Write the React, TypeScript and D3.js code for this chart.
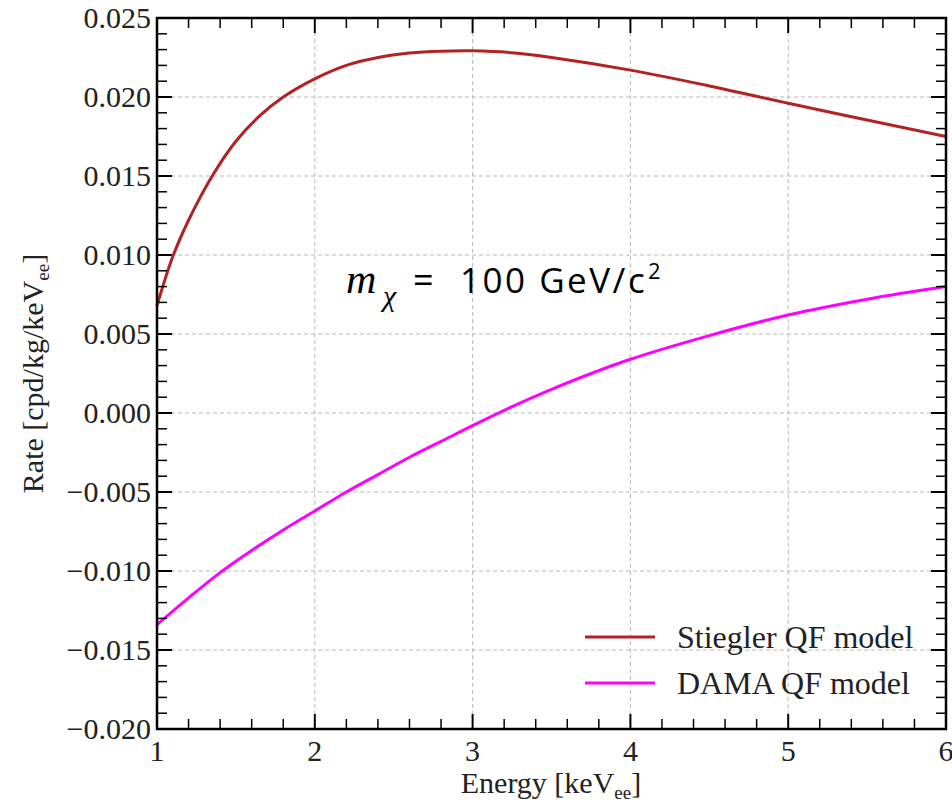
import React from "react";
import * as d3 from "d3";

const energy = [1.0, 1.1, 1.2, 1.35, 1.5, 1.65, 1.8, 2.0, 2.2, 2.4, 2.6, 2.8, 3.0, 3.25, 3.5, 4.0, 4.5, 5.0, 5.5, 6.0];
const stiegler = [0.0068, 0.0099, 0.0122, 0.0150, 0.0172, 0.0188, 0.0200, 0.02115, 0.0220, 0.0225, 0.02278, 0.0229, 0.02292, 0.0228, 0.0225, 0.0217, 0.0207, 0.0196, 0.01855, 0.0175];
const damaEnergy = [1.0, 1.2, 1.4, 1.6, 1.8, 2.0, 2.2, 2.4, 2.6, 2.8, 3.0, 3.25, 3.5, 4.0, 4.5, 5.0, 5.5, 6.0];
const dama = [-0.0134, -0.0117, -0.0101, -0.0087, -0.0074, -0.0062, -0.0050, -0.0039, -0.0028, -0.0018, -0.0008, 0.0004, 0.0015, 0.0034, 0.0049, 0.0062, 0.0072, 0.0080];
const xTicks = [1, 2, 3, 4, 5, 6];
const yTicks = [-0.02, -0.015, -0.01, -0.005, 0, 0.005, 0.01, 0.015, 0.02, 0.025];
const seriesNames = ["Stiegler QF model", "DAMA QF model"];
const seriesColors = ["#b22222", "#ff00ff"];

const W = 952, H = 802;
const L = 157, R = 946, T = 18, B = 729;

export default function App() {
  const x = d3.scaleLinear().domain([1, 6]).range([L, R]);
  const y = d3.scaleLinear().domain([-0.02, 0.025]).range([B, T]);
  const line = d3.line<[number, number]>().x(d => x(d[0])).y(d => y(d[1])).curve(d3.curveCatmullRom.alpha(0.5));
  const sPts = energy.map((e, i) => [e, stiegler[i]] as [number, number]);
  const dPts = damaEnergy.map((e, i) => [e, dama[i]] as [number, number]);
  const xMinor = d3.range(1, 6.0001, 0.2).map(v => +v.toFixed(2)).filter(v => Math.abs(v - Math.round(v)) > 1e-6);
  const yMinor = d3.range(-0.02, 0.0250001, 0.001).map(v => +v.toFixed(4)).filter(v => !yTicks.some(t => Math.abs(t - v) < 1e-7));
  const fmt = (v: number) => (v < -1e-9 ? "\u2212" : "") + d3.format(".3f")(Math.abs(v));
  const serif = "'Liberation Serif', 'DejaVu Serif', serif";
  const sans = "'Open Sans', Lato, sans-serif";

  return (
    <svg width={W} height={H} style={{ position: "absolute", left: 0, top: 0, background: "#fff" }}>
      <rect x={0} y={0} width={W} height={H} fill="#fff" />
      {xTicks.slice(1, -1).map(t => (
        <line key={"gx" + t} x1={x(t)} x2={x(t)} y1={T} y2={B} stroke="#b8b8b8" strokeWidth={1} strokeDasharray="4,3" />
      ))}
      {yTicks.slice(1, -1).map(t => (
        <line key={"gy" + t} x1={L} x2={R} y1={y(t)} y2={y(t)} stroke="#b8b8b8" strokeWidth={1} strokeDasharray="4,3" />
      ))}
      <path d={line(sPts) || ""} fill="none" stroke={seriesColors[0]} strokeWidth={3} />
      <path d={line(dPts) || ""} fill="none" stroke={seriesColors[1]} strokeWidth={3} />
      {xTicks.map(t => (
        <g key={"xt" + t}>
          <line x1={x(t)} x2={x(t)} y1={B} y2={B - 15} stroke="#000" strokeWidth={2} />
          <line x1={x(t)} x2={x(t)} y1={T} y2={T + 15} stroke="#000" strokeWidth={2} />
        </g>
      ))}
      {xMinor.map(t => (
        <g key={"xm" + t}>
          <line x1={x(t)} x2={x(t)} y1={B} y2={B - 10} stroke="#000" strokeWidth={1.5} />
          <line x1={x(t)} x2={x(t)} y1={T} y2={T + 10} stroke="#000" strokeWidth={1.5} />
        </g>
      ))}
      {yTicks.map(t => (
        <g key={"yt" + t}>
          <line x1={L} x2={L + 15} y1={y(t)} y2={y(t)} stroke="#000" strokeWidth={2} />
          <line x1={R} x2={R - 15} y1={y(t)} y2={y(t)} stroke="#000" strokeWidth={2} />
        </g>
      ))}
      {yMinor.map(t => (
        <g key={"ym" + t}>
          <line x1={L} x2={L + 10} y1={y(t)} y2={y(t)} stroke="#000" strokeWidth={1.5} />
          <line x1={R} x2={R - 10} y1={y(t)} y2={y(t)} stroke="#000" strokeWidth={1.5} />
        </g>
      ))}
      <rect x={L} y={T} width={R - L} height={B - T} fill="none" stroke="#000" strokeWidth={2.5} />
      {xTicks.map(t => (
        <text key={"xl" + t} x={x(t)} y={B + 32} textAnchor="middle" fontFamily={serif} fontSize={30} fill="#222">{t}</text>
      ))}
      {yTicks.map(t => (
        <text key={"yl" + t} x={L - 6} y={y(t) + 10} textAnchor="end" fontFamily={serif} fontSize={30} fill="#222">{fmt(t)}</text>
      ))}
      <text x={551} y={793} textAnchor="middle" fontFamily={serif} fontSize={30} fill="#222">
        Energy [keV<tspan fontSize={19} dy={6}>ee</tspan><tspan dy={-6}>]</tspan>
      </text>
      <text transform={`translate(43,${(T + B) / 2}) rotate(-90)`} textAnchor="middle" fontFamily={serif} fontSize={30} fill="#222">
        Rate [cpd/kg/keV<tspan fontSize={19} dy={6}>ee</tspan><tspan dy={-6}>]</tspan>
      </text>
      <text x={346} y={293} fontFamily={serif} fontStyle="italic" fontSize={42} fill="#000">m</text>
      <text x={383} y={306} fontFamily={serif} fontStyle="italic" fontSize={30} fill="#000">χ</text>
      <text x={413} y={293} fontFamily={sans} fontSize={36} fill="#000">=</text>
      <text x={460} y={293} fontFamily={sans} fontSize={35} fill="#000" letterSpacing={2.5}>100 GeV/c</text>
      <text x={648} y={279} fontFamily={sans} fontSize={22} fill="#000">2</text>
      {seriesNames.map((n, i) => (
        <g key={n}>
          <line x1={585} x2={655} y1={637 + i * 46} y2={637 + i * 46} stroke={seriesColors[i]} strokeWidth={3} />
          <text x={677} y={648 + i * 46} fontFamily={serif} fontSize={32} fill="#222">{n}</text>
        </g>
      ))}
    </svg>
  );
}
